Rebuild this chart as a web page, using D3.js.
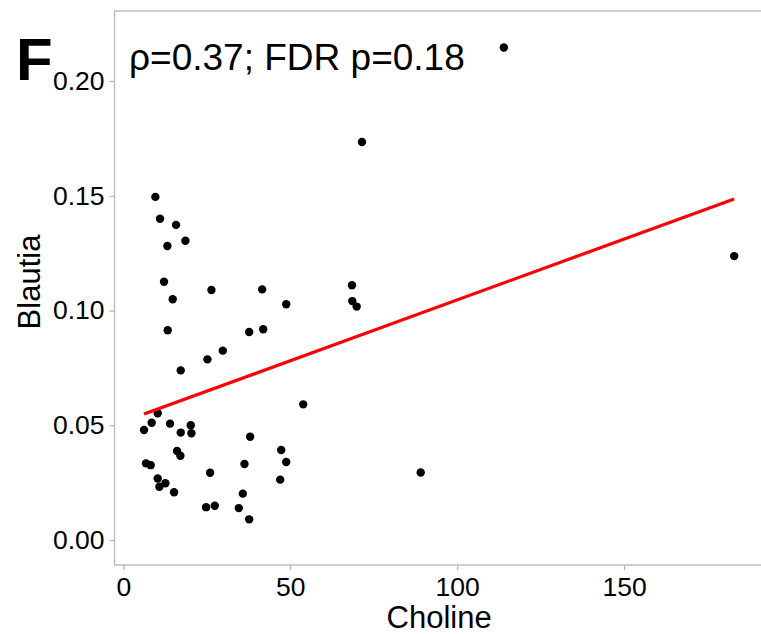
<!DOCTYPE html>
<html>
<head>
<meta charset="utf-8">
<script src="https://cdn.jsdelivr.net/npm/d3@7"></script>
<style>
  body { margin: 0; background: #fff; }
  text { font-family: "Liberation Sans", Arial, Helvetica, sans-serif; fill: #000; }
</style>
</head>
<body>
<svg id="chart" width="761" height="634"></svg>
<script>
// Choline (x) vs Blautia (y)
var choline = [9.6, 11.0, 15.8, 13.2, 18.6, 12.2, 14.8, 26.4, 41.6, 13.3,
  48.8, 68.5, 68.6, 69.9, 37.7, 41.9, 29.8, 25.2, 17.2, 53.9,
  10.3, 6.2, 8.5, 14.0, 17.2, 20.2, 20.4, 38.0, 16.1, 17.1,
  6.8, 8.2, 36.3, 47.3, 48.8, 47.0, 26.0, 10.3, 12.6, 10.8,
  15.2, 35.8, 24.8, 27.4, 34.6, 37.7, 89.1, 114.0, 71.5, 183.0];
var blautia = [0.1495, 0.1400, 0.1373, 0.1281, 0.1304, 0.1125, 0.1049, 0.1089, 0.1092, 0.0914,
  0.1027, 0.1110, 0.1041, 0.1017, 0.0906, 0.0918, 0.0825, 0.0787, 0.0739, 0.0591,
  0.0552, 0.0479, 0.0511, 0.0507, 0.0468, 0.0500, 0.0465, 0.0450, 0.0388, 0.0367,
  0.0334, 0.0326, 0.0331, 0.0392, 0.0340, 0.0263, 0.0293, 0.0268, 0.0247, 0.0232,
  0.0208, 0.0202, 0.0143, 0.0149, 0.0139, 0.0090, 0.0294, 0.2146, 0.1734, 0.1237];

// fitted line (intercept, slope)
var fit = [0.0516, 0.00053];

var xTicks = [0, 50, 100, 150];
var yTicks = [0, 0.05, 0.10, 0.15, 0.20];
var label = 'ρ=0.37; FDR p=0.18';

var svg = d3.select('#chart');
var pLeft = 114.5, pTop = 11, pBottom = 565, pRight = 763.7;

var xExt = d3.extent(choline);
var pad = (xExt[1] - xExt[0]) * 0.05;
var x = d3.scaleLinear()
  .domain([xExt[0] - pad, xExt[1] + pad])
  .range([pLeft, pRight]);

var y = d3.scaleLinear()
  .domain([-0.0109, 0.2305])
  .range([pBottom, pTop]);

// axes
var xAxis = svg.append('g')
  .attr('transform', 'translate(0,' + pBottom + ')')
  .call(d3.axisBottom(x).tickValues(xTicks).tickFormat(d3.format('d')).tickSize(5).tickPadding(3));

var yAxis = svg.append('g')
  .attr('transform', 'translate(' + pLeft + ',0)')
  .call(d3.axisLeft(y).tickValues(yTicks).tickFormat(d3.format('.2f')).tickSize(5).tickPadding(5));

[xAxis, yAxis].forEach(function(a) {
  a.select('.domain').remove();
  a.selectAll('line').attr('stroke', '#b0b0b0').attr('stroke-width', 1.2);
  a.selectAll('text').style('font-size', '26.5px').attr('fill', '#000');
});
xAxis.selectAll('text').attr('dy', '0.85em');

// panel border (right side runs off the image)
svg.append('path')
  .attr('d', 'M' + (pRight + 10) + ',' + pTop + 'H' + pLeft + 'V' + pBottom + 'H' + (pRight + 10))
  .attr('fill', 'none')
  .attr('stroke', '#bdbdbd')
  .attr('stroke-width', 1.4);

// points
svg.append('g')
  .selectAll('circle')
  .data(choline)
  .enter()
  .append('circle')
  .attr('cx', d => x(d))
  .attr('cy', (d, i) => y(blautia[i]))
  .attr('r', 4.2)
  .attr('fill', 'black');

// regression line
svg.append('line')
  .attr('x1', x(xExt[0]))
  .attr('y1', y(fit[0] + fit[1] * xExt[0]))
  .attr('x2', x(xExt[1]))
  .attr('y2', y(fit[0] + fit[1] * xExt[1]))
  .attr('stroke', 'red')
  .attr('stroke-width', 3.2);

// annotation and panel letter
svg.append('text')
  .attr('x', 129)
  .attr('y', 70)
  .style('font-size', '37px')
  .text(label);

svg.append('text')
  .attr('x', 16)
  .attr('y', 80)
  .style('font-size', '60px')
  .style('font-weight', 'bold')
  .text('F');

// axis titles
svg.append('text')
  .attr('x', (pLeft + pRight) / 2)
  .attr('y', 628)
  .attr('text-anchor', 'middle')
  .style('font-size', '31px')
  .text('Choline');

svg.append('text')
  .attr('transform', 'translate(40,' + ((pTop + pBottom) / 2 - 6) + ') rotate(-90)')
  .attr('text-anchor', 'middle')
  .style('font-size', '31px')
  .text('Blautia');
</script>
</body>
</html>
